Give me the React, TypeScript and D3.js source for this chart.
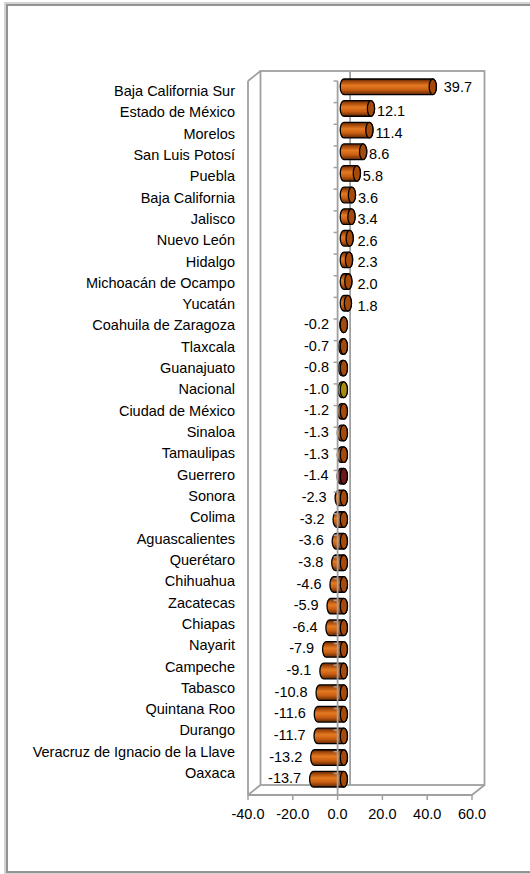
import React from "react";
import * as d3 from "d3";

const categories = [
  "Baja California Sur", "Estado de México", "Morelos", "San Luis Potosí", "Puebla",
  "Baja California", "Jalisco", "Nuevo León", "Hidalgo", "Michoacán de Ocampo", "Yucatán",
  "Coahuila de Zaragoza", "Tlaxcala", "Guanajuato", "Nacional", "Ciudad de México", "Sinaloa",
  "Tamaulipas", "Guerrero", "Sonora", "Colima", "Aguascalientes", "Querétaro", "Chihuahua",
  "Zacatecas", "Chiapas", "Nayarit", "Campeche", "Tabasco", "Quintana Roo", "Durango",
  "Veracruz de Ignacio de la Llave", "Oaxaca",
];
const values = [
  39.7, 12.1, 11.4, 8.6, 5.8, 3.6, 3.4, 2.6, 2.3, 2.0, 1.8,
  -0.2, -0.7, -0.8, -1.0, -1.2, -1.3, -1.3, -1.4, -2.3, -3.2, -3.6,
  -3.8, -4.6, -5.9, -6.4, -7.9, -9.1, -10.8, -11.6, -11.7, -13.2, -13.7,
];
const xTicks = [-40, -20, 0, 20, 40, 60];

const FONT = "'Liberation Sans', Arial, sans-serif";
const FS = 14.5;

// 3D box geometry
const FRONT = { left: 248, right: 472, top: 81, bottom: 795 };
const DX = 12.5;
const DY = -10;

const fmt = (v: number) => v.toFixed(1);

const gradFor = (name: string) =>
  name === "Nacional" ? "gGold" : name === "Guerrero" ? "gRed" : "gOrange";
const capFor = (name: string) =>
  name === "Nacional" ? "#a88a10" : name === "Guerrero" ? "#6e1818" : "#a64a0c";

export default function App() {
  const x = d3.scaleLinear().domain([-40, 60]).range([FRONT.left, FRONT.right]);
  const yFront = d3.scaleBand<string>().domain(categories).range([FRONT.top, FRONT.bottom]);
  const yLabel = d3.scaleBand<string>().domain(categories).range([80.3, 783.7]);

  const midDX = DX / 2;
  const midDY = DY / 2;
  const ry = 7.8;
  const rx = 3.6;

  const back = {
    left: FRONT.left + DX,
    right: FRONT.right + DX,
    top: FRONT.top + DY,
    bottom: FRONT.bottom + DY,
  };
  const wall = "#a0a0a0";

  return (
    <svg width={530} height={874} style={{ position: "absolute", left: 0, top: 0 }}>
      <defs>
        <linearGradient id="gOrange" x1="0" y1="0" x2="0" y2="1">
          <stop offset="0" stopColor="#5a2503" />
          <stop offset="0.18" stopColor="#a94c0c" />
          <stop offset="0.42" stopColor="#e47a22" />
          <stop offset="0.7" stopColor="#c85d12" />
          <stop offset="1" stopColor="#5e2804" />
        </linearGradient>
        <linearGradient id="gGold" x1="0" y1="0" x2="0" y2="1">
          <stop offset="0" stopColor="#5a4a00" />
          <stop offset="0.4" stopColor="#e0bd2a" />
          <stop offset="0.7" stopColor="#c09a12" />
          <stop offset="1" stopColor="#5a4700" />
        </linearGradient>
        <linearGradient id="gRed" x1="0" y1="0" x2="0" y2="1">
          <stop offset="0" stopColor="#3a0a0a" />
          <stop offset="0.4" stopColor="#9a2a2a" />
          <stop offset="0.7" stopColor="#7a1c1c" />
          <stop offset="1" stopColor="#3a0808" />
        </linearGradient>
      </defs>

      {/* outer frame */}
      <rect x={6} y={4} width={545} height={869} fill="none" stroke="#d4d4d4" strokeWidth={4} />
      <rect x={7} y={5} width={545} height={867} fill="#fff" stroke="#8a8a8a" strokeWidth={1.8} />

      {/* back wall */}
      <rect x={back.left} y={back.top} width={back.right - back.left} height={back.bottom - back.top}
        fill="none" stroke={wall} strokeWidth={1.8} />
      {/* left wall front edge */}
      <line x1={FRONT.left} y1={FRONT.top} x2={FRONT.left} y2={FRONT.bottom} stroke={wall} strokeWidth={1.8} />
      <line x1={FRONT.left} y1={FRONT.top} x2={back.left} y2={back.top} stroke={wall} strokeWidth={1.8} />
      {/* floor */}
      <line x1={FRONT.left} y1={FRONT.bottom} x2={FRONT.right} y2={FRONT.bottom} stroke={wall} strokeWidth={1.8} />
      <line x1={FRONT.left} y1={FRONT.bottom} x2={back.left} y2={back.bottom} stroke={wall} strokeWidth={1.8} />
      <line x1={FRONT.right} y1={FRONT.bottom} x2={back.right} y2={back.bottom} stroke={wall} strokeWidth={1.8} />
      {/* zero line on back wall */}
      <line x1={x(0) + DX} y1={back.top} x2={x(0) + DX} y2={back.bottom} stroke={wall} strokeWidth={1.8} />

      {/* bars */}
      {categories.map((c, i) => {
        const v = values[i];
        const cy = (yFront(c) as number) + yFront.bandwidth() / 2 + midDY;
        const x0 = Math.min(x(v), x(0)) + midDX;
        const x1 = Math.max(x(v), x(0)) + midDX;
        const d = `M${x0},${cy - ry} L${x1},${cy - ry} A${rx},${ry} 0 0 1 ${x1},${cy + ry} L${x0},${cy + ry} A${rx},${ry} 0 0 1 ${x0},${cy - ry} Z`;
        return (
          <g key={c}>
            <path d={d} fill={`url(#${gradFor(c)})`} stroke="#000" strokeWidth={1.3} />
            <ellipse cx={x1} cy={cy} rx={rx} ry={ry} fill={capFor(c)} stroke="#000" strokeWidth={1.3} />
          </g>
        );
      })}

      {/* category axis at zero (front plane) */}
      <line x1={x(0)} y1={FRONT.top} x2={x(0)} y2={FRONT.bottom} stroke={wall} strokeWidth={1.8} />
      {categories.map((c) => (
        <line key={"t" + c} x1={x(0) - 4} x2={x(0)} y1={yFront(c) as number} y2={yFront(c) as number}
          stroke={wall} strokeWidth={1.5} />
      ))}
      <line x1={x(0) - 4} x2={x(0)} y1={FRONT.bottom} y2={FRONT.bottom} stroke={wall} strokeWidth={1.5} />

      {/* x ticks */}
      {xTicks.map((t) => (
        <g key={"x" + t}>
          <line x1={x(t)} x2={x(t)} y1={FRONT.bottom} y2={FRONT.bottom + 5} stroke={wall} strokeWidth={1.5} />
          <text x={x(t)} y={814} dy="0.35em" textAnchor="middle" fontFamily={FONT} fontSize={FS} fill="#000">
            {fmt(t)}
          </text>
        </g>
      ))}

      {/* category labels */}
      {categories.map((c) => (
        <text key={"l" + c} x={235} y={(yLabel(c) as number) + yLabel.bandwidth() / 2} dy="0.35em"
          textAnchor="end" fontFamily={FONT} fontSize={FS} fill="#000">
          {c}
        </text>
      ))}

      {/* value labels */}
      {categories.map((c, i) => {
        const v = values[i];
        const cy = (yFront(c) as number) + yFront.bandwidth() / 2 + midDY;
        const label = fmt(v);
        if (v >= 0) {
          let lx = Math.max(x(v) + midDX + 6, 357.5);
          let ly = cy + 2.5;
          if (i === 0) { lx += 5; ly -= 2.5; }
          return (
            <text key={"v" + c} x={lx} y={ly} dy="0.35em" textAnchor="start" fontFamily={FONT} fontSize={FS} fill="#000">
              {label}
            </text>
          );
        }
        const lx = Math.min(x(v) + midDX - 12, 329);
        return (
          <text key={"v" + c} x={lx} y={cy - 1} dy="0.35em" textAnchor="end" fontFamily={FONT} fontSize={FS} fill="#000">
            {label}
          </text>
        );
      })}
    </svg>
  );
}
